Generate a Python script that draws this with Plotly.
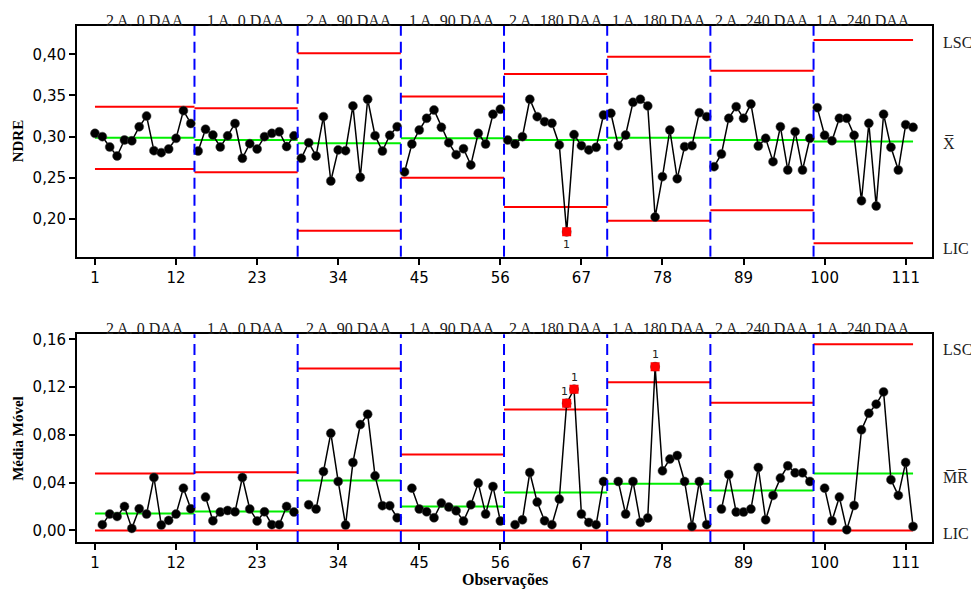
import plotly.graph_objects as go

# ---------------- data ----------------
stages = ["2 A. 0 DAA", "1 A. 0 DAA", "2 A. 90 DAA", "1 A. 90 DAA",
          "2 A. 180 DAA", "1 A. 180 DAA", "2 A. 240 DAA", "1 A. 240 DAA"]
stage_sizes = [14, 14, 14, 14, 14, 14, 14, 14]

ndre = [
    0.304, 0.300, 0.2875, 0.2766, 0.296, 0.295, 0.312, 0.325, 0.283, 0.2806, 0.285, 0.298, 0.3316, 0.316,
    0.2826, 0.309, 0.302, 0.2875, 0.301, 0.316, 0.2738, 0.2915, 0.285, 0.300, 0.304, 0.306, 0.288, 0.301,
    0.2738, 0.2927, 0.2766, 0.3243, 0.2462, 0.2839, 0.283, 0.3373, 0.2507, 0.3454, 0.3012, 0.2826, 0.3017, 0.3121,
    0.2572, 0.2911, 0.3081, 0.3223, 0.3324, 0.3114, 0.2927, 0.2782, 0.2854, 0.2657, 0.3041, 0.2911, 0.3272, 0.3333,
    0.296, 0.2911, 0.300, 0.3454, 0.3243, 0.3182, 0.3163, 0.290, 0.1845, 0.3025, 0.2891, 0.2839, 0.2871, 0.3263,
    0.3284, 0.2891, 0.302, 0.3417, 0.3454, 0.3373, 0.2025, 0.2515, 0.3081, 0.249, 0.2879, 0.2891, 0.3291, 0.3243,
    0.2636, 0.279, 0.3223, 0.3364, 0.3223, 0.3397, 0.2887, 0.298, 0.2697, 0.3121, 0.2596, 0.3061, 0.2596, 0.298,
    0.3352, 0.3017, 0.2951, 0.3223, 0.3223, 0.3017, 0.2223, 0.3163, 0.2159, 0.3272, 0.2871, 0.2596, 0.3146, 0.3114,
]

moving_range = [
    None, 0.0048, 0.0137, 0.0117, 0.0201, 0.0017, 0.0181, 0.0137, 0.0443, 0.0045, 0.0084, 0.0137, 0.0354, 0.0181,
    None, 0.0279, 0.0081, 0.0154, 0.0167, 0.0156, 0.0443, 0.0179, 0.0079, 0.0156, 0.0048, 0.0048, 0.0201, 0.0154,
    None, 0.0215, 0.0179, 0.0493, 0.0814, 0.0410, 0.0045, 0.0569, 0.0886, 0.0973, 0.0457, 0.0207, 0.0207, 0.0106,
    None, 0.0354, 0.0179, 0.0156, 0.0106, 0.0229, 0.0196, 0.0165, 0.0079, 0.0215, 0.0396, 0.0137, 0.0368, 0.0079,
    None, 0.0048, 0.0089, 0.0485, 0.0237, 0.0081, 0.0048, 0.0262, 0.1065, 0.1182, 0.0137, 0.0067, 0.0048, 0.0410,
    None, 0.0410, 0.0137, 0.0410, 0.0067, 0.0104, 0.1371, 0.0499, 0.0597, 0.0627, 0.0410, 0.0033, 0.0410, 0.0048,
    None, 0.0179, 0.0468, 0.0154, 0.0154, 0.0179, 0.0527, 0.0089, 0.0293, 0.0438, 0.0541, 0.0482, 0.0482, 0.0410,
    None, 0.0354, 0.0081, 0.0279, 0.0006, 0.0209, 0.0842, 0.0981, 0.1057, 0.1160, 0.0424, 0.0293, 0.0569, 0.0033,
]

i_ucl = [0.3364, 0.3345, 0.4012, 0.3486, 0.3761, 0.3971, 0.3801, 0.4174]
i_cl = [0.2988, 0.2960, 0.2920, 0.2980, 0.2960, 0.2988, 0.2960, 0.2940]
i_lcl = [0.2608, 0.2568, 0.1859, 0.2502, 0.2147, 0.1980, 0.2107, 0.1706]

mr_ucl = [0.0477, 0.0488, 0.1355, 0.0636, 0.1012, 0.1241, 0.1068, 0.1558]
mr_cl = [0.0142, 0.0159, 0.0418, 0.0201, 0.0318, 0.0390, 0.0334, 0.0477]
mr_lcl = [0.0, 0.0, 0.0, 0.0, 0.0, 0.0, 0.0, 0.0]

i_flags = [65]
mr_flags = [65, 66, 77]

x_ticks = [1, 12, 23, 34, 45, 56, 67, 78, 89, 100, 111]
i_ticks = [0.20, 0.25, 0.30, 0.35, 0.40]
mr_ticks = [0.00, 0.04, 0.08, 0.12, 0.16]

# ---------------- build ----------------
obs = list(range(1, len(ndre) + 1))
n = len(obs)
starts, ends = [], []
s = 1
for sz in stage_sizes:
    starts.append(s)
    ends.append(s + sz - 1)
    s += sz
bounds = [e + 0.5 for e in ends[:-1]]
seg_lo = [max(1, st - 0.5) for st in starts]
seg_hi = [min(n, en + 0.5) for en in ends]

SERIF = "Liberation Serif"
SANS = "DejaVu Sans"
RED = "#ff0000"
GREEN = "#00ee00"
BLUE = "#0000ff"

fig = go.Figure()


def seg_trace(vals, color, xa, ya):
    xs, ys = [], []
    for lo, hi, v in zip(seg_lo, seg_hi, vals):
        xs += [lo, hi, None]
        ys += [v, v, None]
    return go.Scatter(x=xs, y=ys, mode="lines", line=dict(color=color, width=2),
                      xaxis=xa, yaxis=ya, hoverinfo="skip", showlegend=False)


for vals, col in [(i_ucl, RED), (i_lcl, RED), (i_cl, GREEN)]:
    fig.add_trace(seg_trace(vals, col, "x", "y"))
for vals, col in [(mr_ucl, RED), (mr_lcl, RED), (mr_cl, GREEN)]:
    fig.add_trace(seg_trace(vals, col, "x2", "y2"))


def data_trace(y, xa, ya):
    xs, ys = [], []
    for st, en in zip(starts, ends):
        for k in range(st, en + 1):
            xs.append(k)
            ys.append(y[k - 1])
        xs.append(None)
        ys.append(None)
    return go.Scatter(x=xs, y=ys, mode="lines+markers", connectgaps=False,
                      line=dict(color="black", width=1.5),
                      marker=dict(color="black", size=9, symbol="circle",
                                  line=dict(color="#444", width=0.5)),
                      xaxis=xa, yaxis=ya, showlegend=False)


fig.add_trace(data_trace(ndre, "x", "y"))
fig.add_trace(data_trace(moving_range, "x2", "y2"))

fig.add_trace(go.Scatter(x=i_flags, y=[ndre[k - 1] for k in i_flags], mode="markers",
                         marker=dict(color=RED, size=9, symbol="square"),
                         xaxis="x", yaxis="y", showlegend=False))
fig.add_trace(go.Scatter(x=mr_flags, y=[moving_range[k - 1] for k in mr_flags], mode="markers",
                         marker=dict(color=RED, size=9, symbol="square"),
                         xaxis="x2", yaxis="y2", showlegend=False))

shapes = []
for b in bounds:
    for xr, yr in [("x", "y domain"), ("x2", "y2 domain")]:
        shapes.append(dict(type="line", xref=xr, yref=yr, x0=b, x1=b, y0=0, y1=1,
                           line=dict(color=BLUE, width=2, dash="11px,6px")))

ann = []
for name, st, en, lo, hi in zip(stages, starts, ends, seg_lo, seg_hi):
    cx = (max(1, st - 0.5) + min(n, en + 0.5)) / 2
    for xr, yref in [("x", "y domain"), ("x2", "y2 domain")]:
        ann.append(dict(text=name, x=cx, xref=xr, y=1, yref=yref, yanchor="bottom",
                        yshift=-5, showarrow=False,
                        font=dict(family=SERIF, size=16, color="#222")))

# flag labels
for k in i_flags:
    ann.append(dict(text="1", x=k, xref="x", y=ndre[k - 1], yref="y", yshift=-13,
                    showarrow=False, font=dict(family=SANS, size=11, color="#222")))
for k in mr_flags:
    ann.append(dict(text="1", x=k, xref="x2", y=moving_range[k - 1], yref="y2", yshift=12,
                    xshift=-2 if k == 65 else 0,
                    showarrow=False, font=dict(family=SANS, size=11, color="#222")))

# right-side labels
RX = 1.0105
right = [("LSC", "y", i_ucl[-1], -3), ("X\u0305", "y", i_cl[-1], -2), ("LIC", "y", i_lcl[-1], -5),
         ("LSC", "y2", mr_ucl[-1], -5), ("M\u0305R\u0305", "y2", mr_cl[-1], -4), ("LIC", "y2", mr_lcl[-1], -3)]
for txt, yr, v, sh in right:
    ann.append(dict(text=txt, x=RX, xref="paper", y=v, yref=yr, xanchor="left", yanchor="middle",
                    yshift=sh, showarrow=False, font=dict(family=SERIF, size=16, color="#222")))

# axis titles
ann.append(dict(text="<b>NDRE</b>", x=-0.069, xref="paper", y=0.7765, yref="paper",
                textangle=-90, showarrow=False, xanchor="center", yanchor="middle",
                font=dict(family=SERIF, size=15, color="black")))
ann.append(dict(text="<b>Média Móvel</b>", x=-0.069, xref="paper", y=0.2, yref="paper",
                textangle=-90, showarrow=False, xanchor="center", yanchor="middle",
                font=dict(family=SERIF, size=15, color="black")))
ann.append(dict(text="<b>Observações</b>", x=0.5, xref="paper", y=-0.0736, yref="paper",
                showarrow=False, xanchor="center", yanchor="middle",
                font=dict(family=SERIF, size=16, color="black")))

xaxis_common = dict(range=[-1.44, 114.57], tickmode="array", tickvals=x_ticks,
                    ticks="outside", ticklen=6, tickwidth=2, tickcolor="black",
                    showline=True, linewidth=2, linecolor="black", mirror=True,
                    showgrid=False, zeroline=False,
                    tickfont=dict(family=SANS, size=15, color="black"))
yaxis_common = dict(ticks="outside", ticklen=6, tickwidth=2, tickcolor="black",
                    showline=True, linewidth=2, linecolor="black", mirror=True,
                    showgrid=False, zeroline=False, tickformat=".2f", tickmode="array",
                    tickfont=dict(family=SANS, size=15, color="black"))

fig.update_layout(
    width=971, height=591,
    margin=dict(l=77, r=39, t=26, b=49, autoexpand=False),
    paper_bgcolor="white", plot_bgcolor="white",
    separators=",.",
    showlegend=False,
    xaxis=dict(**xaxis_common, domain=[0, 1], anchor="y"),
    yaxis=dict(**yaxis_common, domain=[0.553, 1.0], range=[0.1544, 0.4343], tickvals=i_ticks, anchor="x"),
    xaxis2=dict(**xaxis_common, domain=[0, 1], anchor="y2"),
    yaxis2=dict(**yaxis_common, domain=[0.0, 0.4025], range=[-0.0097, 0.1642], tickvals=mr_ticks, anchor="x2"),
    shapes=shapes,
    annotations=ann,
)

fig.write_html("out.html")
